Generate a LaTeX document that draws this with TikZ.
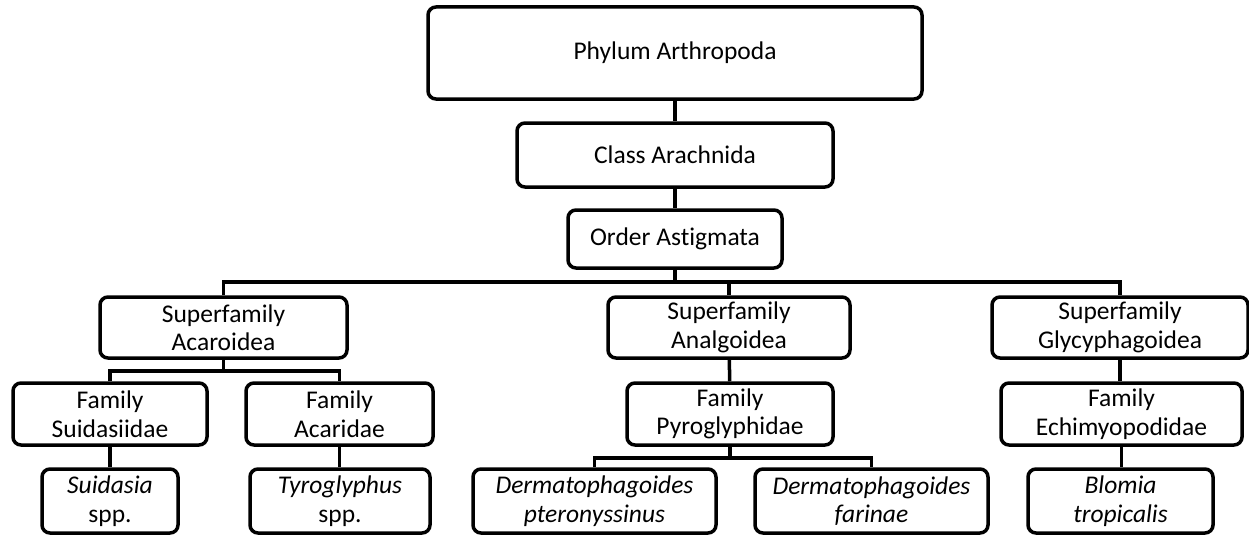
\documentclass[tikz,border=0pt]{standalone}
\usepackage{fontspec}
\setmainfont{Carlito}[RawFeature={-liga;-clig;-calt;-dlig}]
\begin{document}
\begin{tikzpicture}[x=1pt,y=-1pt,
  box/.style={draw, line width=3.5pt, rounded corners=8pt, inner sep=0pt,
    align=center, font=\fontsize{25.5}{28.5}\selectfont},
  conn/.style={line width=3.5pt}]
\useasboundingbox (0,0) rectangle (1249,535);
\newcommand\bx[6]{\node[box, minimum width=#4pt, minimum height=#5pt] (#1) at (#2,#3) {#6};}
% level boxes
\bx{phylum}{675}{53}{494}{92}{Phylum Arthropoda}
\bx{class}{675}{155}{316}{64}{Class Arachnida}
\bx{order}{675}{239}{214}{58}{Order Ast\kern0pt igmata}
\bx{acar}{223.5}{327.5}{247}{61}{Superfamily\\Acaroidea}
\bx{anal}{729}{327.5}{242}{61}{Superfamily\\Analgoidea}
\bx{glyc}{1120}{327.5}{256}{61}{Superfamily\\Glycyphagoidea}
\bx{suid}{110}{414}{194}{62}{Family\\Suidasiidae}
\bx{acari}{339.5}{414}{187}{62}{Family\\Acaridae}
\bx{pyro}{730}{414}{206}{62}{Family\\Pyroglyphidae}
\bx{echi}{1121.5}{414}{241}{62}{Family\\Echimyopodidae}
\bx{suidsp}{110}{501}{136}{64}{{\itshape Suidasia}\\spp.}
\bx{tyro}{340}{501}{180}{64}{{\itshape Tyroglyphus}\\spp.}
\bx{dpter}{594.5}{501}{243}{64}{{\itshape Dermatophagoides}\\{\itshape pteronyssinus}}
\bx{dfar}{871.5}{501}{233}{64}{{\itshape Dermatophagoides}\\{\itshape farinae}}
\bx{blom}{1120.5}{501}{185}{64}{{\itshape Blomia}\\{\itshape tropicalis}}
% bar levels
\coordinate (barA) at (0,282);
\coordinate (barB) at (0,371);
\coordinate (barC) at (0,458);
% connectors
\draw[conn] (phylum) -- (class);
\draw[conn] (class) -- (order);
\draw[conn] (order.south) -- (order.south |- barA);
\draw[conn] (acar.north) -- (acar.north |- barA) -| (glyc.north);
\draw[conn] (anal.north) -- (anal.north |- barA);
\draw[conn] (suid.north) -- (suid.north |- barB) -| (acari.north);
\draw[conn] (acar.south) -- (acar.south |- barB);
\draw[conn] (suid) -- (suidsp);
\draw[conn] (acari.south) -- (acari.south |- suidsp.north);
\draw[conn] (anal) -- (pyro);
\draw[conn] (dpter.north) -- (dpter.north |- barC) -| (dfar.north);
\draw[conn] (pyro.south) -- (pyro.south |- barC);
\draw[conn] (glyc.south) -- (glyc.south |- echi.north);
\draw[conn] (echi.south) -- (echi.south |- blom.north);
\end{tikzpicture}
\end{document}
